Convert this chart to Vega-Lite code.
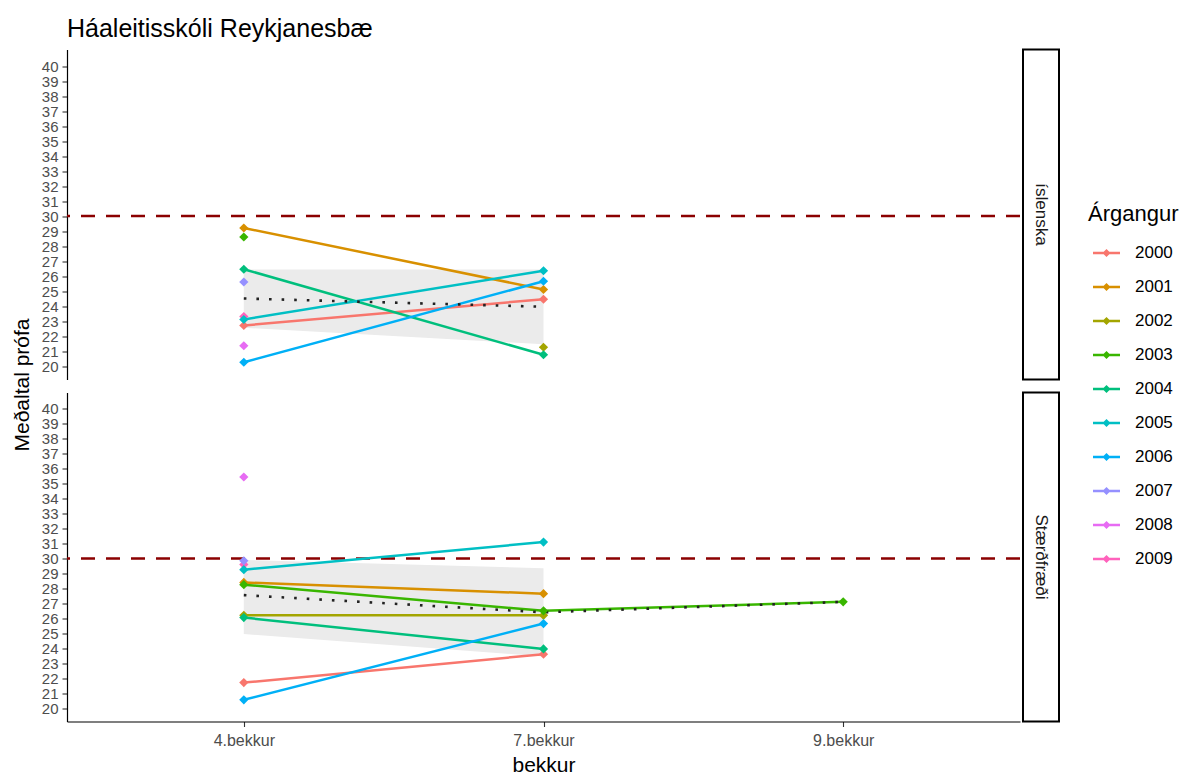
{
  "$schema": "https://vega.github.io/schema/vega-lite/v6.json",
  "background": "white",
  "padding": {"left": 11, "top": 16.5, "right": 5, "bottom": 0},
  "title": {"text": "Háaleitisskóli Reykjanesbæ", "anchor": "start", "frame": "group", "fontSize": 25, "font": "Liberation Sans", "fontWeight": "normal", "color": "black", "offset": 7},
  "datasets": {
    "scores": [
      {"fag": "íslenska", "bekkur": "4.bekkur", "ar": "2000", "gildi": 22.7},
      {"fag": "íslenska", "bekkur": "4.bekkur", "ar": "2001", "gildi": 29.2},
      {"fag": "íslenska", "bekkur": "4.bekkur", "ar": "2003", "gildi": 28.6},
      {"fag": "íslenska", "bekkur": "4.bekkur", "ar": "2004", "gildi": 26.45},
      {"fag": "íslenska", "bekkur": "4.bekkur", "ar": "2009", "gildi": 23.3},
      {"fag": "íslenska", "bekkur": "4.bekkur", "ar": "2005", "gildi": 23.1},
      {"fag": "íslenska", "bekkur": "4.bekkur", "ar": "2006", "gildi": 20.25},
      {"fag": "íslenska", "bekkur": "4.bekkur", "ar": "2007", "gildi": 25.6},
      {"fag": "íslenska", "bekkur": "4.bekkur", "ar": "2008", "gildi": 21.35},
      {"fag": "íslenska", "bekkur": "7.bekkur", "ar": "2000", "gildi": 24.45},
      {"fag": "íslenska", "bekkur": "7.bekkur", "ar": "2001", "gildi": 25.1},
      {"fag": "íslenska", "bekkur": "7.bekkur", "ar": "2002", "gildi": 21.25},
      {"fag": "íslenska", "bekkur": "7.bekkur", "ar": "2004", "gildi": 20.75},
      {"fag": "íslenska", "bekkur": "7.bekkur", "ar": "2005", "gildi": 26.35},
      {"fag": "íslenska", "bekkur": "7.bekkur", "ar": "2006", "gildi": 25.65},
      {"fag": "Stærðfræði", "bekkur": "4.bekkur", "ar": "2009", "gildi": 29.6},
      {"fag": "Stærðfræði", "bekkur": "4.bekkur", "ar": "2000", "gildi": 21.7},
      {"fag": "Stærðfræði", "bekkur": "4.bekkur", "ar": "2001", "gildi": 28.4},
      {"fag": "Stærðfræði", "bekkur": "4.bekkur", "ar": "2002", "gildi": 26.2},
      {"fag": "Stærðfræði", "bekkur": "4.bekkur", "ar": "2003", "gildi": 28.25},
      {"fag": "Stærðfræði", "bekkur": "4.bekkur", "ar": "2004", "gildi": 26.05},
      {"fag": "Stærðfræði", "bekkur": "4.bekkur", "ar": "2005", "gildi": 29.25},
      {"fag": "Stærðfræði", "bekkur": "4.bekkur", "ar": "2006", "gildi": 20.55},
      {"fag": "Stærðfræði", "bekkur": "4.bekkur", "ar": "2007", "gildi": 29.85},
      {"fag": "Stærðfræði", "bekkur": "4.bekkur", "ar": "2008", "gildi": 35.45},
      {"fag": "Stærðfræði", "bekkur": "7.bekkur", "ar": "2000", "gildi": 23.6},
      {"fag": "Stærðfræði", "bekkur": "7.bekkur", "ar": "2001", "gildi": 27.65},
      {"fag": "Stærðfræði", "bekkur": "7.bekkur", "ar": "2002", "gildi": 26.2},
      {"fag": "Stærðfræði", "bekkur": "7.bekkur", "ar": "2003", "gildi": 26.5},
      {"fag": "Stærðfræði", "bekkur": "7.bekkur", "ar": "2004", "gildi": 23.95},
      {"fag": "Stærðfræði", "bekkur": "7.bekkur", "ar": "2005", "gildi": 31.1},
      {"fag": "Stærðfræði", "bekkur": "7.bekkur", "ar": "2006", "gildi": 25.65},
      {"fag": "Stærðfræði", "bekkur": "9.bekkur", "ar": "2003", "gildi": 27.1}
    ],
    "band": [
      {"fag": "íslenska", "bekkur": "4.bekkur", "lo": 22.55, "hi": 26.43},
      {"fag": "íslenska", "bekkur": "7.bekkur", "lo": 21.45, "hi": 26.43},
      {"fag": "Stærðfræði", "bekkur": "4.bekkur", "lo": 24.95, "hi": 29.9},
      {"fag": "Stærðfræði", "bekkur": "7.bekkur", "lo": 23.45, "hi": 29.35}
    ],
    "mean": [
      {"fag": "íslenska", "bekkur": "4.bekkur", "gildi": 24.5},
      {"fag": "íslenska", "bekkur": "7.bekkur", "gildi": 23.95},
      {"fag": "Stærðfræði", "bekkur": "4.bekkur", "gildi": 27.55},
      {"fag": "Stærðfræði", "bekkur": "7.bekkur", "gildi": 26.4},
      {"fag": "Stærðfræði", "bekkur": "9.bekkur", "gildi": 27.1}
    ],
    "ref": [{"gildi": 30}],
    "strips": [{"fag": "íslenska"}, {"fag": "Stærðfræði"}]
  },
  "spacing": 0,
  "hconcat": [
    {
      "bounds": "flush",
      "spacing": 13,
      "vconcat": [
        {
          "width": 953,
          "height": 330,
          "layer": [
            {
              "data": {"name": "band"},
              "transform": [{"filter": "datum.fag === 'íslenska'"}],
              "mark": {"type": "area", "color": "#EBEBEB", "opacity": 1},
              "encoding": {
                "x": {"field": "bekkur", "type": "ordinal", "scale": {"type": "point", "domain": ["4.bekkur", "7.bekkur", "9.bekkur"], "padding": 0.59}, "axis": null},
                "y": {"field": "lo", "type": "quantitative", "scale": {"domain": [19.1, 41.1], "nice": false, "zero": false}, "axis": {"title": "Meðaltal prófa", "values": [20,21,22,23,24,25,26,27,28,29,30,31,32,33,34,35,36,37,38,39,40], "labelOverlap": false, "titleX": -39, "titleY": 335, "titleAngle": 270, "titleBaseline": "alphabetic", "titleAlign": "center"}},
                "y2": {"field": "hi"}
              }
            },
            {
              "data": {"name": "ref"},
              "mark": {"type": "rule", "color": "#8B0000", "strokeDash": [14, 11], "strokeWidth": 2.6},
              "encoding": {
                "y": {"field": "gildi", "type": "quantitative", "scale": {"domain": [19.1, 41.1], "nice": false, "zero": false}, "axis": {"title": "Meðaltal prófa", "values": [20,21,22,23,24,25,26,27,28,29,30,31,32,33,34,35,36,37,38,39,40], "labelOverlap": false, "titleX": -39, "titleY": 335, "titleAngle": 270, "titleBaseline": "alphabetic", "titleAlign": "center"}}
              }
            },
            {
              "data": {"name": "scores"},
              "transform": [{"filter": "datum.fag === 'íslenska'"}],
              "mark": {"type": "line", "strokeWidth": 2.5},
              "encoding": {
                "x": {"field": "bekkur", "type": "ordinal", "scale": {"type": "point", "domain": ["4.bekkur", "7.bekkur", "9.bekkur"], "padding": 0.59}, "axis": null},
                "y": {"field": "gildi", "type": "quantitative", "scale": {"domain": [19.1, 41.1], "nice": false, "zero": false}, "axis": {"title": "Meðaltal prófa", "values": [20,21,22,23,24,25,26,27,28,29,30,31,32,33,34,35,36,37,38,39,40], "labelOverlap": false, "titleX": -39, "titleY": 335, "titleAngle": 270, "titleBaseline": "alphabetic", "titleAlign": "center"}},
                "color": {"field": "ar", "type": "nominal", "title": "Árgangur", "scale": {"domain": ["2000","2001","2002","2003","2004","2005","2006","2007","2008","2009"], "range": ["#F8766D","#D89000","#A3A500","#39B600","#00BF7D","#00BFC4","#00B0F6","#9590FF","#E76BF3","#FF62BC"]}, "legend": {"orient": "none", "legendX": 1021, "legendY": 154}}
              }
            },
            {
              "data": {"name": "mean"},
              "transform": [{"filter": "datum.fag === 'íslenska'"}],
              "mark": {"type": "line", "color": "#222222", "strokeWidth": 2.6, "strokeDash": [2.6, 10]},
              "encoding": {
                "x": {"field": "bekkur", "type": "ordinal", "scale": {"type": "point", "domain": ["4.bekkur", "7.bekkur", "9.bekkur"], "padding": 0.59}, "axis": null},
                "y": {"field": "gildi", "type": "quantitative", "scale": {"domain": [19.1, 41.1], "nice": false, "zero": false}, "axis": {"title": "Meðaltal prófa", "values": [20,21,22,23,24,25,26,27,28,29,30,31,32,33,34,35,36,37,38,39,40], "labelOverlap": false, "titleX": -39, "titleY": 335, "titleAngle": 270, "titleBaseline": "alphabetic", "titleAlign": "center"}}
              }
            },
            {
              "data": {"name": "scores"},
              "transform": [{"filter": "datum.fag === 'íslenska'"}],
              "mark": {"type": "point", "shape": "diamond", "filled": true, "size": 85, "opacity": 1},
              "encoding": {
                "x": {"field": "bekkur", "type": "ordinal", "scale": {"type": "point", "domain": ["4.bekkur", "7.bekkur", "9.bekkur"], "padding": 0.59}, "axis": null},
                "y": {"field": "gildi", "type": "quantitative", "scale": {"domain": [19.1, 41.1], "nice": false, "zero": false}, "axis": {"title": "Meðaltal prófa", "values": [20,21,22,23,24,25,26,27,28,29,30,31,32,33,34,35,36,37,38,39,40], "labelOverlap": false, "titleX": -39, "titleY": 335, "titleAngle": 270, "titleBaseline": "alphabetic", "titleAlign": "center"}},
                "color": {"field": "ar", "type": "nominal", "title": "Árgangur", "scale": {"domain": ["2000","2001","2002","2003","2004","2005","2006","2007","2008","2009"], "range": ["#F8766D","#D89000","#A3A500","#39B600","#00BF7D","#00BFC4","#00B0F6","#9590FF","#E76BF3","#FF62BC"]}, "legend": {"orient": "none", "legendX": 1021, "legendY": 154}}
              }
            }
          ]
        },
        {
          "width": 953,
          "height": 329,
          "layer": [
            {
              "data": {"name": "band"},
              "transform": [{"filter": "datum.fag === 'Stærðfræði'"}],
              "mark": {"type": "area", "color": "#EBEBEB", "opacity": 1},
              "encoding": {
                "x": {"field": "bekkur", "type": "ordinal", "scale": {"type": "point", "domain": ["4.bekkur", "7.bekkur", "9.bekkur"], "padding": 0.59}, "axis": {"title": "bekkur", "labelAngle": 0, "labelFontSize": 16, "labelPadding": 6, "titlePadding": 6}},
                "y": {"field": "lo", "type": "quantitative", "scale": {"domain": [19.1, 41.1], "nice": false, "zero": false}, "axis": {"title": null, "values": [20,21,22,23,24,25,26,27,28,29,30,31,32,33,34,35,36,37,38,39,40], "labelOverlap": false}},
                "y2": {"field": "hi"}
              }
            },
            {
              "data": {"name": "ref"},
              "mark": {"type": "rule", "color": "#8B0000", "strokeDash": [14, 11], "strokeWidth": 2.6},
              "encoding": {
                "y": {"field": "gildi", "type": "quantitative", "scale": {"domain": [19.1, 41.1], "nice": false, "zero": false}, "axis": {"title": null, "values": [20,21,22,23,24,25,26,27,28,29,30,31,32,33,34,35,36,37,38,39,40], "labelOverlap": false}}
              }
            },
            {
              "data": {"name": "scores"},
              "transform": [{"filter": "datum.fag === 'Stærðfræði'"}],
              "mark": {"type": "line", "strokeWidth": 2.5},
              "encoding": {
                "x": {"field": "bekkur", "type": "ordinal", "scale": {"type": "point", "domain": ["4.bekkur", "7.bekkur", "9.bekkur"], "padding": 0.59}, "axis": {"title": "bekkur", "labelAngle": 0, "labelFontSize": 16, "labelPadding": 6, "titlePadding": 6}},
                "y": {"field": "gildi", "type": "quantitative", "scale": {"domain": [19.1, 41.1], "nice": false, "zero": false}, "axis": {"title": null, "values": [20,21,22,23,24,25,26,27,28,29,30,31,32,33,34,35,36,37,38,39,40], "labelOverlap": false}},
                "color": {"field": "ar", "type": "nominal", "title": "Árgangur", "scale": {"domain": ["2000","2001","2002","2003","2004","2005","2006","2007","2008","2009"], "range": ["#F8766D","#D89000","#A3A500","#39B600","#00BF7D","#00BFC4","#00B0F6","#9590FF","#E76BF3","#FF62BC"]}, "legend": {"orient": "none", "legendX": 1021, "legendY": 154}}
              }
            },
            {
              "data": {"name": "mean"},
              "transform": [{"filter": "datum.fag === 'Stærðfræði'"}],
              "mark": {"type": "line", "color": "#222222", "strokeWidth": 2.6, "strokeDash": [2.6, 10]},
              "encoding": {
                "x": {"field": "bekkur", "type": "ordinal", "scale": {"type": "point", "domain": ["4.bekkur", "7.bekkur", "9.bekkur"], "padding": 0.59}, "axis": {"title": "bekkur", "labelAngle": 0, "labelFontSize": 16, "labelPadding": 6, "titlePadding": 6}},
                "y": {"field": "gildi", "type": "quantitative", "scale": {"domain": [19.1, 41.1], "nice": false, "zero": false}, "axis": {"title": null, "values": [20,21,22,23,24,25,26,27,28,29,30,31,32,33,34,35,36,37,38,39,40], "labelOverlap": false}}
              }
            },
            {
              "data": {"name": "scores"},
              "transform": [{"filter": "datum.fag === 'Stærðfræði'"}],
              "mark": {"type": "point", "shape": "diamond", "filled": true, "size": 85, "opacity": 1},
              "encoding": {
                "x": {"field": "bekkur", "type": "ordinal", "scale": {"type": "point", "domain": ["4.bekkur", "7.bekkur", "9.bekkur"], "padding": 0.59}, "axis": {"title": "bekkur", "labelAngle": 0, "labelFontSize": 16, "labelPadding": 6, "titlePadding": 6}},
                "y": {"field": "gildi", "type": "quantitative", "scale": {"domain": [19.1, 41.1], "nice": false, "zero": false}, "axis": {"title": null, "values": [20,21,22,23,24,25,26,27,28,29,30,31,32,33,34,35,36,37,38,39,40], "labelOverlap": false}},
                "color": {"field": "ar", "type": "nominal", "title": "Árgangur", "scale": {"domain": ["2000","2001","2002","2003","2004","2005","2006","2007","2008","2009"], "range": ["#F8766D","#D89000","#A3A500","#39B600","#00BF7D","#00BFC4","#00B0F6","#9590FF","#E76BF3","#FF62BC"]}, "legend": {"orient": "none", "legendX": 1021, "legendY": 154}}
              }
            }
          ]
        }
      ]
    },
    {
      "bounds": "flush",
      "spacing": 13,
      "vconcat": [
        {
          "width": 36,
          "height": 330,
          "view": {"stroke": "black", "strokeWidth": 2, "fill": "white"},
          "data": {"name": "strips"},
          "transform": [{"filter": "datum.fag === 'íslenska'"}],
          "mark": {"type": "text", "angle": 90, "fontSize": 17, "color": "#1A1A1A", "font": "Liberation Sans", "align": "center", "baseline": "middle"},
          "encoding": {"text": {"field": "fag"}}
        },
        {
          "width": 36,
          "height": 329,
          "view": {"stroke": "black", "strokeWidth": 2, "fill": "white"},
          "data": {"name": "strips"},
          "transform": [{"filter": "datum.fag === 'Stærðfræði'"}],
          "mark": {"type": "text", "angle": 90, "fontSize": 17, "color": "#1A1A1A", "font": "Liberation Sans", "align": "center", "baseline": "middle"},
          "encoding": {"text": {"field": "fag"}}
        }
      ]
    }
  ],
  "config": {
    "font": "Liberation Sans",
    "view": {"stroke": null},
    "axis": {"grid": false, "domainColor": "#000000", "domainWidth": 1.2, "tickColor": "#333333", "tickSize": 5, "tickWidth": 1.1, "labelColor": "#4D4D4D", "labelFontSize": 15, "labelFont": "Liberation Sans", "titleFont": "Liberation Sans", "titleFontSize": 21, "titleFontWeight": "normal", "titleColor": "#000000"},
    "axisY": {"labelPadding": 4},
    "legend": {"padding": 0, "titleFontSize": 22, "titleFontWeight": "normal", "titleColor": "#000000", "titleFont": "Liberation Sans", "labelFont": "Liberation Sans", "labelFontSize": 17, "labelColor": "#000000", "symbolType": "M-1,-0.09L1,-0.09L1,0.09L-1,0.09Z M0,-0.3L0.3,0L0,0.3L-0.3,0Z", "symbolSize": 729, "symbolStrokeWidth": 0, "symbolOffset": 5, "labelOffset": 15, "rowPadding": 12, "titlePadding": 14}
  }
}
